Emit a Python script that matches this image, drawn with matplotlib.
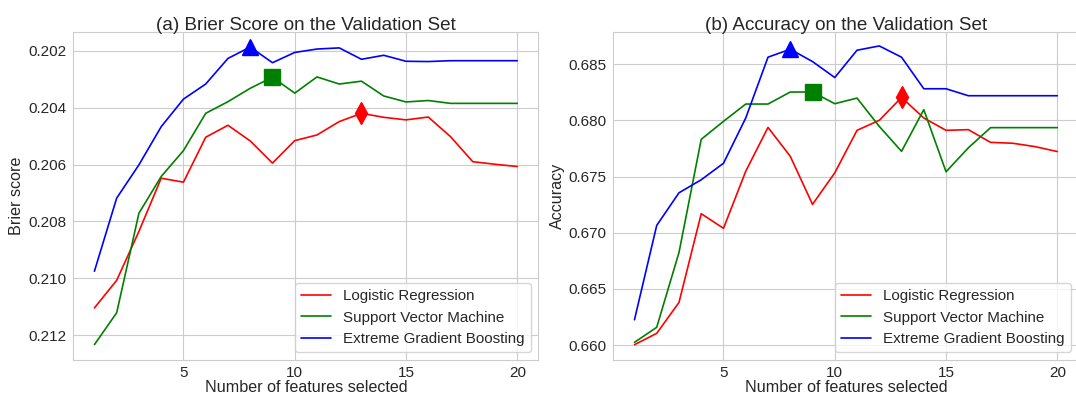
import matplotlib
matplotlib.use("Agg")
import matplotlib.pyplot as plt
import seaborn as sns

sns.set_style("whitegrid")
plt.rcParams['font.family'] = ['Liberation Sans', 'DejaVu Sans']

n_features = list(range(1, 21))
model_names = ["Logistic Regression", "Support Vector Machine", "Extreme Gradient Boosting"]
colors = ["red", "green", "blue"]
best_markers = ["d", "s", "^"]

brier_lr = [0.21104, 0.21007, 0.20835, 0.20648, 0.20662, 0.20504, 0.20462, 0.20517, 0.20595, 0.20516,
            0.20496, 0.20449, 0.20420, 0.20434, 0.20443, 0.20433, 0.20502, 0.20590, 0.20599, 0.20607]
brier_svm = [0.21233, 0.21121, 0.20771, 0.20642, 0.20551, 0.20420, 0.20379, 0.20332, 0.20293, 0.20349,
             0.20292, 0.20317, 0.20307, 0.20359, 0.20380, 0.20375, 0.20385, 0.20385, 0.20385, 0.20385]
brier_xgb = [0.20975, 0.20718, 0.20601, 0.20467, 0.20370, 0.20317, 0.20227, 0.20187, 0.20242, 0.20206,
             0.20194, 0.20190, 0.20230, 0.20216, 0.20237, 0.20238, 0.20235, 0.20235, 0.20235, 0.20235]

acc_lr = [0.66003, 0.66104, 0.66379, 0.67169, 0.67039, 0.67547, 0.67937, 0.67680, 0.67252, 0.67533,
          0.67911, 0.68000, 0.68204, 0.68021, 0.67911, 0.67917, 0.67804, 0.67796, 0.67766, 0.67722]
acc_svm = [0.66024, 0.66158, 0.66823, 0.67831, 0.67991, 0.68145, 0.68145, 0.68252, 0.68252, 0.68148,
           0.68198, 0.67946, 0.67724, 0.68095, 0.67542, 0.67755, 0.67935, 0.67935, 0.67935, 0.67935]
acc_xgb = [0.66225, 0.67065, 0.67355, 0.67471, 0.67618, 0.68021, 0.68562, 0.68633, 0.68523, 0.68381,
           0.68624, 0.68662, 0.68562, 0.68281, 0.68281, 0.68219, 0.68219, 0.68219, 0.68219, 0.68219]

# number of features at which each model's best point is marked
best_n = [13, 9, 8]

brier = [brier_lr, brier_svm, brier_xgb]
acc = [acc_lr, acc_svm, acc_xgb]

fig = plt.figure(figsize=(10.76, 3.98), dpi=100)
ax1 = fig.add_axes([0.0681, 0.0955, 0.4323, 0.8249])
ax2 = fig.add_axes([0.5700, 0.0955, 0.4323, 0.8249])

for ax, data, title, ylabel in [(ax1, brier, "(a) Brier Score on the Validation Set", "Brier score"),
                                (ax2, acc, "(b) Accuracy on the Validation Set", "Accuracy")]:
    for name, col, mk, vals, bn in zip(model_names, colors, best_markers, data, best_n):
        ax.plot(n_features, vals, color=col, lw=1.2, label=name)
        ax.plot([bn], [vals[bn - 1]], marker=mk, color=col, markersize=11, linestyle="none")
    ax.set_title(title, fontsize=13.6, color="#262626", pad=1.5)
    ax.set_xlabel("Number of features selected", fontsize=11.6, labelpad=0)
    ax.set_ylabel(ylabel, fontsize=11.6, labelpad=3)
    ax.tick_params(axis="x", labelsize=11, length=0, pad=4.3)
    ax.tick_params(axis="y", labelsize=11, length=0, pad=4.7)
    ax.set_xticks([5, 10, 15, 20])
    ax.legend(loc="lower right", fontsize=10.9, frameon=True)

ax1.set_ylim(0.21287, 0.20133)
ax1.set_yticks([0.202, 0.204, 0.206, 0.208, 0.210, 0.212])
ax1.set_yticklabels(["0.202", "0.204", "0.206", "0.208", "0.210", "0.212"])
ax2.set_ylim(0.65867, 0.68789)
ax2.set_yticks([0.660, 0.665, 0.670, 0.675, 0.680, 0.685])
ax2.set_yticklabels(["0.660", "0.665", "0.670", "0.675", "0.680", "0.685"])

fig.savefig("out.png", dpi=100)
